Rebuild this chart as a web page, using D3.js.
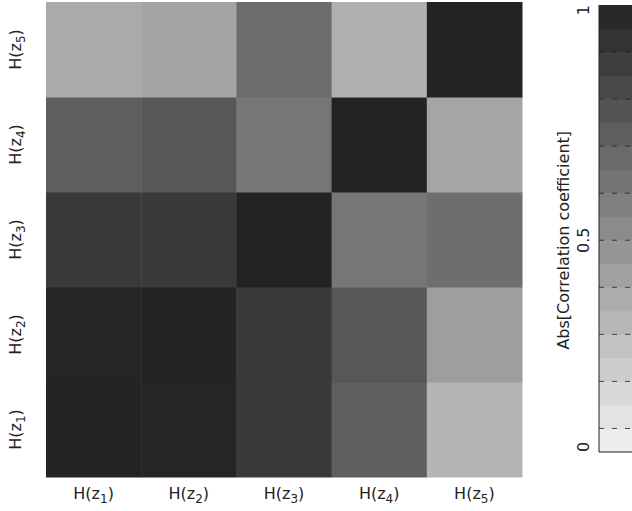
<!DOCTYPE html>
<html><head><meta charset="utf-8">
<script src="https://cdn.jsdelivr.net/npm/d3@7"></script>
<style>body{margin:0;background:#fff}text{font-family:"DejaVu Sans",sans-serif;fill:#222}</style>
</head><body><svg id="c" width="632" height="511"></svg>
<script>
const vars = ["1", "2", "3", "4", "5"];
// rows listed from H(z1) (bottom) to H(z5) (top), columns H(z1)..H(z5)
const corr = [
  [1.00, 0.99, 0.89, 0.71, 0.30],
  [0.99, 1.00, 0.89, 0.75, 0.41],
  [0.89, 0.89, 1.00, 0.60, 0.64],
  [0.71, 0.75, 0.60, 1.00, 0.375],
  [0.35, 0.38, 0.65, 0.32, 1.00]
];
const nLevels = 19;
const barTicks = [0, 0.5, 1];

const svg = d3.select("#c");
const gray = v => { const g = Math.round(243 - 208 * v); return `rgb(${g},${g},${g})`; };

const x = d3.scaleBand().domain(vars).range([46, 522]);
const y = d3.scaleBand().domain(vars).range([477, 2]);

corr.forEach((row, i) => row.forEach((v, j) => {
  svg.append("rect").attr("x", x(vars[j])).attr("y", y(vars[i]))
    .attr("width", x.bandwidth() + 0.5).attr("height", y.bandwidth() + 0.5)
    .attr("fill", gray(v));
}));

function hlabel(sel, k) {
  sel.append("tspan").text("H(z");
  sel.append("tspan").attr("baseline-shift", "-30%").attr("font-size", 12).text(k);
  sel.append("tspan").text(")");
}
vars.forEach(k => {
  hlabel(svg.append("text").attr("x", x(k) + x.bandwidth() / 2).attr("y", 499)
    .attr("text-anchor", "middle").attr("font-size", 16), k);
  hlabel(svg.append("text").attr("transform", `translate(21,${y(k) + y.bandwidth() / 2}) rotate(-90)`)
    .attr("text-anchor", "middle").attr("font-size", 16), k);
});

// colorbar
const levels = d3.range(nLevels);
const cb = d3.scaleBand().domain(levels).range([452, 5]);
svg.append("g").selectAll("rect").data(levels).join("rect")
  .attr("x", 599).attr("y", d => cb(d)).attr("width", 40).attr("height", cb.bandwidth() + 0.5)
  .attr("fill", d => gray((d + 0.5) / nLevels));
svg.append("line").attr("x1", 599).attr("x2", 599).attr("y1", 5).attr("y2", 452).attr("stroke", "#222");
svg.append("line").attr("x1", 599).attr("x2", 632).attr("y1", 452).attr("y2", 452).attr("stroke", "#222");
d3.range(1, nLevels - 1, 2).forEach(b => {
  const yy = cb(b - 1);
  svg.append("line").attr("x1", 599).attr("x2", 632).attr("y1", yy).attr("y2", yy)
    .attr("stroke", "#222").attr("stroke-width", 0.8).attr("stroke-dasharray", "5,8");
});
const vy = d3.scaleLinear().domain([0, 0.5, 1]).range([452, cb(8), 5]);
barTicks.forEach(t => {
  svg.append("text").attr("transform", `translate(583,${vy(t)}) rotate(-90)`)
    .attr("text-anchor", t === 1 ? "end" : (t === 0 ? "start" : "middle")).attr("font-size", 16)
    .attr("dy", "0.35em").text(t);
});
svg.append("text").attr("transform", `translate(563,${vy(0.5)}) rotate(-90)`)
  .attr("text-anchor", "middle").attr("font-size", 16).attr("dy", "0.35em").text("Abs[Correlation coefficient]");
</script></body></html>
